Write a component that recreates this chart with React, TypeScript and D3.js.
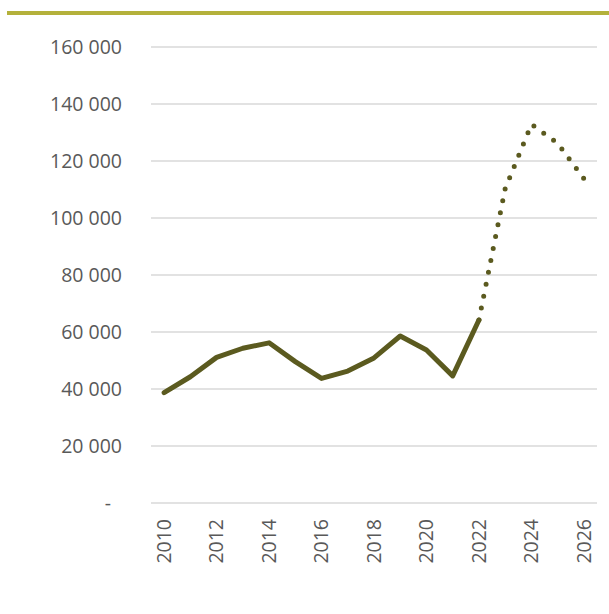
import React from "react";
import * as d3 from "d3";

const years = [2010, 2011, 2012, 2013, 2014, 2015, 2016, 2017, 2018, 2019, 2020, 2021, 2022, 2023, 2024, 2025, 2026];
const actualValues = [38700, 44300, 51100, 54300, 56200, 49600, 43700, 46300, 50900, 58600, 53700, 44600, 64200];
const forecastYears = [2022, 2023, 2024, 2025, 2026];
const forecastValues = [64200, 110300, 132900, 126200, 113800];
const yTicks = [0, 20000, 40000, 60000, 80000, 100000, 120000, 140000, 160000];
const xTickYears = [2010, 2012, 2014, 2016, 2018, 2020, 2022, 2024, 2026];

const W = 609;
const H = 614;
const left = 151;
const right = 597;
const top = 47;
const bottom = 503;
const font = "'Open Sans', sans-serif";
const textColor = "#595959";
const lineColor = "#5b5a1f";

export default function App() {
  const x = d3.scaleBand<number>().domain(years).range([left, right]).padding(0);
  const cx = (yr: number) => (x(yr) as number) + x.bandwidth() / 2;
  const y = d3.scaleLinear().domain([0, 160000]).range([bottom, top]);
  const fmt = (v: number) => (v === 0 ? "-" : d3.format(",")(v).replace(/,/g, " "));

  const line = d3.line<[number, number]>().x((d) => cx(d[0])).y((d) => y(d[1]));
  const actualPath = line(years.slice(0, actualValues.length).map((yr, i) => [yr, actualValues[i]]) as [number, number][]) || "";
  const fPts = forecastYears.map((yr, i) => [yr, forecastValues[i]]) as [number, number][];
  const forecastPath = line(fPts) || "";
  let len = 0;
  for (let i = 1; i < fPts.length; i++) {
    len += Math.hypot(cx(fPts[i][0]) - cx(fPts[i - 1][0]), y(fPts[i][1]) - y(fPts[i - 1][1]));
  }
  const gap = len / Math.round(len / 12) - 0.02;

  return (
    <svg width={W} height={H} style={{ position: "absolute", left: 0, top: 0, background: "#fff" }}>
      <line x1={7} x2={W} y1={13} y2={13} stroke="#b4b13b" strokeWidth={4} />
      {yTicks.map((t) => (
        <g key={t}>
          <line x1={left} x2={right} y1={y(t)} y2={y(t)} stroke="#d9d9d9" strokeWidth={1.5} />
          <text
            x={t === 0 ? 111 : 122}
            y={y(t)}
            dy="0.35em"
            textAnchor="end"
            fontFamily={font}
            fontSize={19.5}
            fill={textColor}
          >
            {fmt(t)}
          </text>
        </g>
      ))}
      {xTickYears.map((yr) => (
        <text
          key={yr}
          transform={`translate(${cx(yr)},519) rotate(-90)`}
          dy="0.35em"
          textAnchor="end"
          fontFamily={font}
          fontSize={19.5}
          fill={textColor}
        >
          {yr}
        </text>
      ))}
      <path d={actualPath} fill="none" stroke={lineColor} strokeWidth={5} strokeLinejoin="round" strokeLinecap="round" />
      <path
        d={forecastPath}
        fill="none"
        stroke={lineColor}
        strokeWidth={5}
        strokeLinecap="round"
        strokeDasharray={`0 ${gap}`}
      />
    </svg>
  );
}
